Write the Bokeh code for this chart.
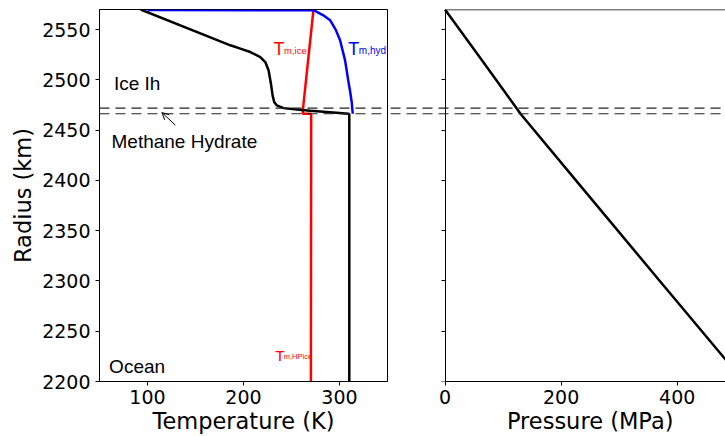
from bokeh.plotting import figure
from bokeh.layouts import row
from bokeh.models import Span, Arrow, OpenHead, FixedTicker, LinearAxis, Range1d
from bokeh.core.properties import value
from bokeh.embed import file_html
from bokeh.resources import INLINE

# ---------------- data ----------------
R_RANGE = (2200, 2570)          # radius (km)
T_RANGE = (50, 350)             # temperature (K)
P_RANGE = (-93.9, 483.2)        # pressure (MPa) shown in right panel frame
P_AXIS_END = 500                # full extent of the pressure axis (cut by the page edge)
R_TICKS = [2200, 2250, 2300, 2350, 2400, 2450, 2500, 2550]
T_TICKS = [100, 200, 300]
P_TICKS = [0, 200, 400]

# temperature profile (black)
profile_T = [92.9, 186.3, 196.7, 207.1, 217.5, 222.7, 226.1, 228.6, 230.3, 232.0,
             234.8, 241.7, 255.6, 269.4, 290.2, 309.5, 310.2, 310.2]
profile_R = [2570.0, 2534.4, 2531.1, 2527.7, 2522.7, 2517.7, 2509.5, 2496.2, 2484.6, 2477.9,
             2474.6, 2471.9, 2470.6, 2469.3, 2467.9, 2466.3, 2465.8, 2200.0]

# melting curve of ice (red)
melt_ice_T = [272.9, 261.8, 261.8, 270.5, 270.2]
melt_ice_R = [2570.0, 2469.6, 2466.3, 2466.3, 2200.0]

# dissociation curve of methane hydrate (blue)
melt_hyd_T = [100.0, 273.0, 283.2, 290.2, 296.0, 300.6, 305.8, 309.0, 310.9, 312.7, 313.8]
melt_hyd_R = [2569.4, 2569.3, 2564.2, 2559.4, 2550.0, 2539.4, 2519.4, 2500.0, 2489.5, 2478.0, 2466.3]

# pressure profile
pressure_P = [0, 63, 123, 130, 225.5, 370, 515]
pressure_R = [2570, 2520, 2472, 2466.3, 2400, 2300, 2200]

# hydrate layer boundaries (dashed)
layer_R = [2472.0, 2466.3]

TICK_FONT = "DejaVu Sans"
TEXT_FONT = "Liberation Sans"
TXT_DY = -6   # pixel shift for annotation texts
NBSP = "\u00a0"


def style_axis(ax, label_size="22.5px"):
    ax.axis_line_color = "black"
    ax.axis_line_width = 1
    ax.major_tick_line_color = "black"
    ax.major_tick_line_width = 1
    ax.major_tick_out = 4
    ax.major_tick_in = 0
    ax.minor_tick_line_color = None
    ax.major_label_text_font = TICK_FONT
    ax.major_label_text_font_size = "19px"
    ax.major_label_text_color = "black"
    ax.axis_label_text_font = TICK_FONT
    ax.axis_label_text_font_size = label_size
    ax.axis_label_text_font_style = "normal"
    ax.axis_label_text_color = "black"


def spine_axis(loc, bounds, width=1):
    return LinearAxis(fixed_location=loc, bounds=bounds,
                      ticker=FixedTicker(ticks=[]), major_tick_out=0, major_tick_in=0,
                      minor_tick_out=0, minor_tick_in=0,
                      axis_line_color="black", axis_line_width=width)


# ---------------- left panel ----------------
p1 = figure(width=390, height=436, x_range=Range1d(*T_RANGE), y_range=Range1d(*R_RANGE),
            output_backend="svg", toolbar_location=None,
            min_border_left=99, min_border_right=3, min_border_top=9, min_border_bottom=55)
p1.grid.visible = False
p1.outline_line_color = "black"
p1.outline_line_width = 1
p1.outline_line_alpha = 1.0
style_axis(p1.xaxis[0])
style_axis(p1.yaxis[0])
p1.xaxis.ticker = FixedTicker(ticks=T_TICKS)
p1.yaxis.ticker = FixedTicker(ticks=R_TICKS)
p1.xaxis.axis_label = "Temperature (K)"
p1.yaxis.axis_label = "Radius (km)"
p1.xaxis.major_label_standoff = 4
p1.xaxis.axis_label_standoff = 1
p1.yaxis.major_label_standoff = 5
p1.yaxis.axis_label_standoff = 3
p1.add_layout(spine_axis(R_RANGE[1], T_RANGE), "above")

for r in layer_R:
    p1.add_layout(Span(location=r, dimension="width", line_color="#222222",
                       line_width=1.2, line_dash="10 6"))

p1.line(melt_ice_T, melt_ice_R, line_color="#ff0000", line_width=2.5)
p1.line(melt_hyd_T, melt_hyd_R, line_color="#0000ff", line_width=2.5)
p1.line(profile_T, profile_R, line_color="black", line_width=2.5)

txt = dict(text_font=value(TEXT_FONT), text_baseline="alphabetic", text_align="left")
p1.text(x=[65], y=[2490], text=["Ice Ih"], text_font_size="19px", text_color="black",
        y_offset=TXT_DY, **txt)
p1.text(x=[62.5], y=[2432.5], text=["Methane Hydrate"], text_font_size="19px", text_color="black",
        y_offset=TXT_DY, **txt)
p1.text(x=[60], y=[2209], text=["Ocean"], text_font_size="19px", text_color="black",
        y_offset=TXT_DY, **txt)

# melting-curve labels: T with subscript
p1.text(x=[231.3], y=[2524.4], text=["T"], text_font_size="18px", text_color="#ff0000",
        y_offset=TXT_DY, **txt)
p1.text(x=[231.3], y=[2524.4], text=["m,ice"], text_font_size="9.5px", text_color="#ff0000",
        x_offset=10.5, y_offset=TXT_DY + 1.5, **txt)
p1.text(x=[309.2], y=[2524.4], text=["T"], text_font_size="18px", text_color="#0000ff",
        y_offset=TXT_DY, **txt)
p1.text(x=[309.2], y=[2524.4], text=["m,hyd"], text_font_size="10px", text_color="#0000ff",
        x_offset=10.5, y_offset=TXT_DY + 1.5, **txt)
p1.text(x=[233.1], y=[2220], text=["T"], text_font_size="15.5px", text_color="#ff0000",
        y_offset=TXT_DY, **txt)
p1.text(x=[233.1], y=[2220], text=["m,HPice"], text_font_size="7.5px", text_color="#ff0000",
        x_offset=8.5, y_offset=TXT_DY + 1.2, **txt)

p1.add_layout(Arrow(end=OpenHead(size=7, line_width=1, line_color="black"),
                    x_start=129, y_start=2455, x_end=115, y_end=2467.5,
                    line_width=1, line_color="black"))

# ---------------- right panel ----------------
p2 = figure(width=335, height=436, x_range=Range1d(*P_RANGE), y_range=Range1d(*R_RANGE),
            output_backend="svg", toolbar_location=None,
            min_border_left=0, min_border_right=0, min_border_top=9, min_border_bottom=55)
p2.grid.visible = False
p2.outline_line_color = None
style_axis(p2.xaxis[0])
style_axis(p2.yaxis[0])
p2.yaxis.fixed_location = 0
p2.yaxis.ticker = FixedTicker(ticks=R_TICKS)
p2.yaxis.major_label_overrides = {t: "" for t in R_TICKS}
p2.xaxis.bounds = (0, P_AXIS_END)
p2.xaxis.ticker = FixedTicker(ticks=P_TICKS)
# label centred on the full (0..500 MPa) axis, which runs past the page edge
p2.xaxis.axis_label = NBSP * 9 + "Pressure (MPa)"
p2.xaxis.major_label_standoff = 4
p2.xaxis.axis_label_standoff = 1
p2.add_layout(spine_axis(R_RANGE[1], (0, P_AXIS_END), width=1.5), "above")

for r in layer_R:
    p2.add_layout(Span(location=r, dimension="width", line_color="#222222",
                       line_width=1.2, line_dash="10 6"))

p2.line(pressure_P, pressure_R, line_color="black", line_width=2.5)

layout = row(p1, p2)
open("out.html", "w").write(file_html(layout, INLINE))
